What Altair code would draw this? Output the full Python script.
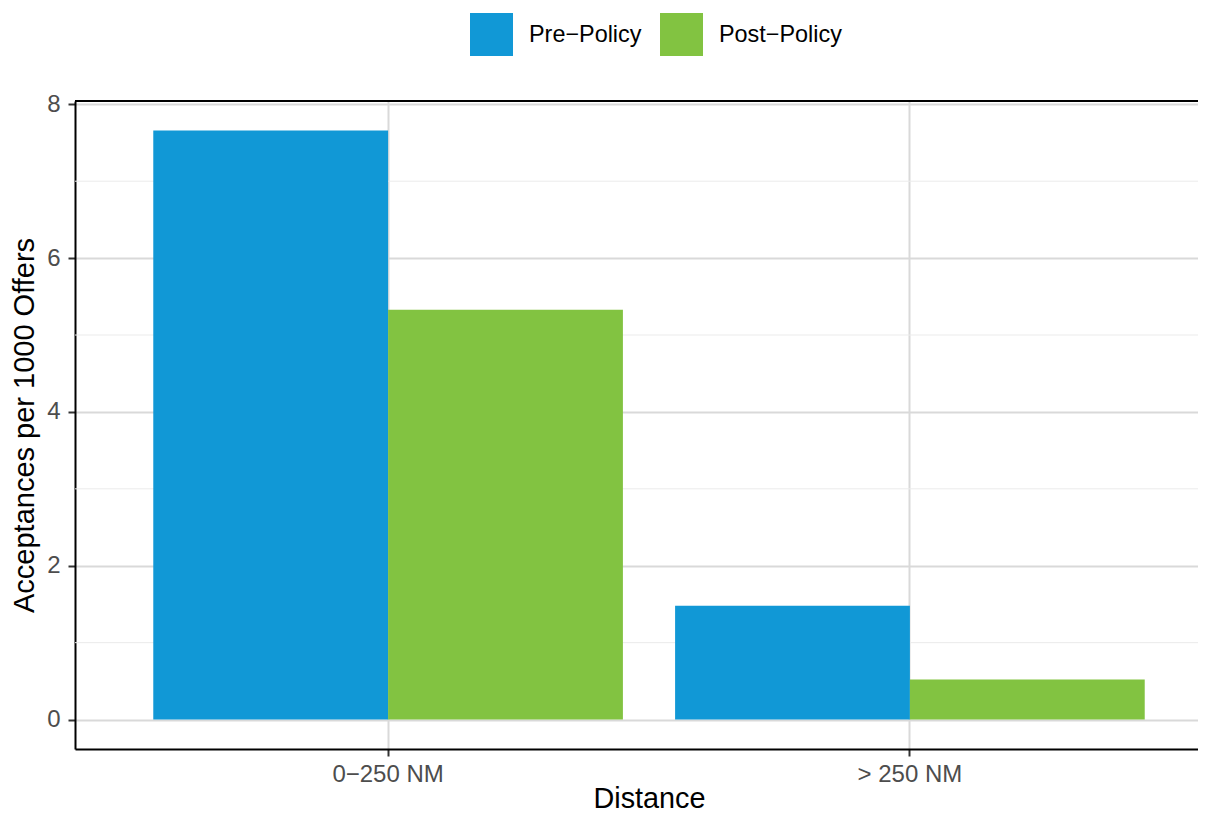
import altair as alt
import pandas as pd

# ---- data ----
distances = ["0−250 NM", "> 250 NM"]
periods = ["Pre−Policy", "Post−Policy"]
pre_values = [7.66, 1.48]
post_values = [5.33, 0.52]
y_ticks = [0, 2, 4, 6, 8]
y_minor = [1, 3, 5, 7]
y_domain = [-0.383, 8.043]
colors = ["#1198D6", "#82C341"]

rows = []
for d, pre, post in zip(distances, pre_values, post_values):
    rows.append({"distance": d, "period": periods[0], "value": pre})
    rows.append({"distance": d, "period": periods[1], "value": post})
df = pd.DataFrame(rows)

W = 1123
H = 648
FULL = 1148
FONT = "Liberation Sans"

y_scale = alt.Scale(domain=y_domain, nice=False, zero=False)

y_axis = alt.Axis(
    title="Acceptances per 1000 Offers",
    titleFont=FONT,
    titleFontSize=29,
    titleFontWeight="normal",
    titleColor="black",
    titleX=-42,
    titleY=H / 2,
    titleBaseline="alphabetic",
    titleAngle=270,
    values=y_ticks,
    labelFont=FONT,
    labelFontSize=24,
    labelColor="#4D4D4D",
    labelPadding=8,
    tickSize=7,
    tickColor="#333333",
    tickWidth=2,
    domainColor="black",
    domainWidth=2,
    grid=True,
    gridColor="#D9D9D9",
    gridWidth=2,
)

minor = alt.Chart(pd.DataFrame({"value": y_minor})).mark_rule(
    color="#EBEBEB", strokeWidth=1
).encode(y=alt.Y("value:Q", scale=y_scale, axis=y_axis))

bars = alt.Chart(df).mark_bar(strokeWidth=0).encode(
    x=alt.X(
        "distance:N",
        sort=distances,
        scale=alt.Scale(range=[0, FULL], paddingInner=0.1, paddingOuter=0.15),
        axis=alt.Axis(
            title="Distance",
            titleFont=FONT,
            titleFontSize=28.8,
            titleFontWeight="normal",
            titleColor="black",
            titleX=574,
            titleY=58,
            titleBaseline="alphabetic",
            labelFont=FONT,
            labelFontSize=24,
            labelColor="#4D4D4D",
            labelPadding=6,
            labelAngle=0,
            tickSize=7,
            tickColor="#333333",
            tickWidth=2,
            domainColor="black",
            domainWidth=2,
            grid=True,
            gridColor="#D9D9D9",
            gridWidth=2,
            bandPosition=0.5,
        ),
    ),
    xOffset=alt.XOffset(
        "period:N", sort=periods, scale=alt.Scale(paddingInner=0, paddingOuter=0)
    ),
    y=alt.Y("value:Q", scale=y_scale, axis=y_axis),
    color=alt.Color(
        "period:N",
        sort=periods,
        scale=alt.Scale(domain=periods, range=colors),
        legend=alt.Legend(
            title=None,
            orient="none",
            legendX=395,
            legendY=-88,
            direction="horizontal",
            symbolType="square",
            symbolSize=1849,
            symbolStrokeWidth=0,
            symbolOpacity=1,
            labelFont=FONT,
            labelFontSize=23.4,
            labelColor="black",
            labelOffset=16,
            columnPadding=18,
            padding=0,
        ),
    ),
)

top_border = alt.Chart(pd.DataFrame({"a": [0]})).mark_rule(
    color="black", strokeWidth=2
).encode(y=alt.value(0), x=alt.value(0), x2=alt.value(W))

chart = (
    alt.layer(minor, bars, top_border)
    .properties(
        width=W,
        height=H,
        padding={"left": 67, "top": 93, "right": 0, "bottom": 64},
        autosize="none",
        background="white",
    )
    .configure_view(stroke=None)
)

chart.save("out.html", embed_options={"renderer": "svg", "actions": False})
